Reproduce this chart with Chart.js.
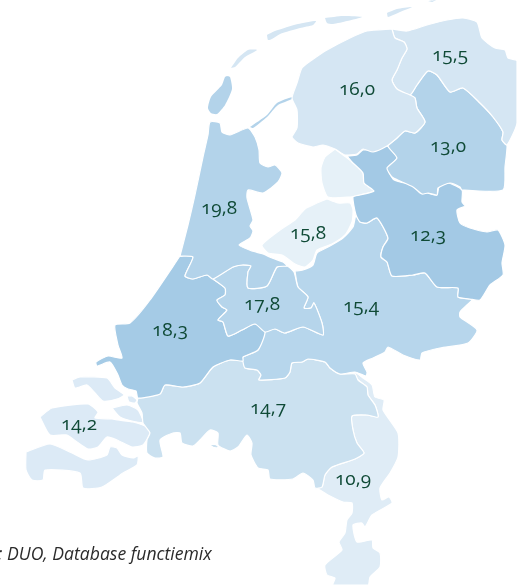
<!DOCTYPE html>
<html>
<head>
<meta charset="utf-8">
<title>Kaart</title>
<script src="https://cdn.jsdelivr.net/npm/chart.js@4"></script>
<style>
    html, body { margin: 0; padding: 0; background: #ffffff; }
    canvas { display: block; font-feature-settings: "onum"; }
</style>
</head>
<body>
<canvas id="mapChart" width="517" height="585"></canvas>
<script>
// outlines are map coordinates
const friesland = [[392,29],[367,31],[350,38],[327,50],[312,60],[302,68],[297,83],[292,98],[297,110],[297,128],[292,137],[298,143],[313,147],[323,145],[335,149],[345,155],[357,154],[363,149],[373,152],[387,146],[397,138],[405,131],[415,133],[425,122],[417,108],[415,98],[410,95],[397,89],[392,80],[397,70],[402,58],[407,49],[404,42],[395,38]];
const vlieland = [[231,68],[238,58],[248,50],[257,50],[245,57],[235,67]];
const terschelling = [[267,35],[268,40],[272,39],[280,34],[300,28],[313,25],[316,21],[298,24],[275,31]];
const ameland = [[325,18],[327,23],[333,24],[347,21],[362,17],[343,16]];
const schiermonnikoog = [[387,13],[388,17],[400,12],[412,7],[397,9]];
const rottum = [[428,1],[436,0],[432,2]];
const afsluitdijk = [[250,127],[267,115],[277,103],[292,97],[292,99],[278,105],[267,117],[253,128]];
const groningen = [[392,29],[407,31],[427,25],[447,20],[463,18],[477,22],[482,38],[495,48],[505,50],[508,58],[517,61],[517,123],[507,145],[502,140],[503,132],[493,117],[480,103],[463,88],[450,92],[437,75],[428,71],[417,85],[410,95],[397,89],[392,80],[397,70],[402,58],[407,49],[404,42],[395,38]];
const drenthe = [[410,95],[417,85],[428,71],[437,75],[450,92],[463,88],[480,103],[493,117],[503,132],[502,140],[507,145],[505,167],[503,190],[462,190],[460,187],[450,183],[438,188],[437,195],[428,193],[422,194],[413,187],[400,181],[392,177],[387,168],[397,158],[388,146],[397,138],[405,131],[415,133],[425,122],[417,108],[415,98]];
const overijssel = [[347,156],[357,155],[363,150],[377,150],[387,146],[397,158],[388,168],[393,179],[400,182],[413,185],[420,193],[427,193],[437,195],[439,187],[448,183],[462,190],[462,202],[465,206],[457,210],[460,223],[470,228],[487,232],[498,230],[505,245],[502,263],[503,275],[490,285],[480,300],[470,299],[458,297],[458,288],[437,287],[425,273],[413,275],[392,276],[387,262],[381,257],[383,247],[388,238],[377,218],[367,223],[360,222],[356,215],[353,197],[360,195],[374,191],[364,183],[363,173],[352,162]];
const noordoostpolder = [[335,149],[343,155],[352,162],[363,173],[364,183],[374,191],[360,195],[350,197],[328,197],[322,183],[321,168],[325,157]];
const zuidflevoland = [[327,199],[338,203],[350,203],[353,210],[352,222],[345,235],[332,244],[317,250],[313,260],[305,267],[295,264],[282,255],[268,253],[262,245],[280,230],[295,220],[305,209],[317,203]];
const noordHolland = [[180,256],[193,257],[185,276],[193,279],[207,275],[213,279],[233,267],[242,265],[251,266],[248,272],[248,288],[267,286],[277,267],[287,266],[283,262],[272,258],[263,254],[252,251],[239,245],[250,238],[253,231],[250,226],[253,220],[247,198],[248,190],[263,193],[278,182],[282,173],[275,165],[268,167],[260,163],[259,150],[255,137],[248,128],[230,135],[222,132],[220,123],[210,122],[208,135],[203,157],[195,195],[188,225]];
const texel = [[227,76],[230,77],[232,89],[225,105],[217,114],[211,113],[208,108],[211,97],[222,85],[225,77]];
const utrecht = [[213,279],[225,288],[225,295],[217,300],[222,307],[227,310],[218,320],[223,322],[228,336],[242,330],[255,324],[265,332],[275,329],[285,333],[303,327],[323,335],[322,323],[314,303],[311,308],[304,308],[308,297],[298,287],[294,272],[287,266],[277,267],[267,286],[248,288],[248,272],[251,266],[242,265],[233,267]];
const zuidHolland = [[180,256],[193,257],[185,276],[193,279],[207,275],[213,279],[225,288],[225,295],[217,300],[222,307],[227,310],[218,320],[223,322],[228,336],[242,330],[255,324],[265,332],[258,350],[243,357],[243,361],[230,360],[213,367],[200,383],[183,387],[165,385],[160,394],[138,398],[136,391],[128,389],[122,385],[118,375],[110,362],[97,366],[96,362],[108,356],[122,358],[118,345],[115,325],[130,323],[150,300]];
const gelderland = [[295,271],[303,270],[313,265],[317,253],[330,246],[343,238],[353,227],[356,215],[360,222],[367,223],[377,218],[388,238],[383,247],[381,257],[387,262],[392,276],[413,275],[425,273],[437,287],[458,288],[458,297],[470,299],[472,300],[460,312],[460,317],[477,330],[468,343],[440,348],[422,353],[420,360],[403,355],[388,347],[385,352],[373,358],[363,363],[367,372],[366,376],[355,372],[340,374],[330,368],[325,362],[308,359],[302,362],[292,363],[290,372],[285,378],[259,380],[261,375],[257,370],[245,368],[243,362],[243,357],[258,350],[265,332],[275,329],[285,333],[303,327],[323,335],[322,323],[314,303],[311,308],[304,308],[308,297],[298,287]];
const brabant = [[138,398],[160,394],[165,385],[183,387],[200,383],[213,367],[230,360],[243,361],[245,368],[257,370],[261,375],[259,380],[285,378],[290,372],[292,363],[302,362],[308,359],[325,362],[330,368],[340,374],[355,374],[358,380],[367,387],[368,395],[375,405],[378,417],[367,415],[352,416],[353,430],[357,443],[364,453],[355,459],[332,467],[325,475],[322,487],[315,488],[313,480],[303,473],[293,479],[270,479],[268,470],[258,468],[251,455],[252,443],[247,435],[238,447],[230,451],[218,445],[218,433],[210,430],[200,440],[193,446],[182,443],[180,433],[173,433],[160,440],[163,457],[155,458],[147,453],[147,440],[150,433],[143,423],[142,413],[137,403]];
const saeftinghe = [[211,445],[215,445],[218,447],[214,447]];
const limburg = [[355,374],[358,380],[367,387],[368,395],[375,405],[378,417],[367,415],[352,416],[353,430],[357,443],[364,453],[355,459],[332,467],[325,475],[322,487],[315,489],[320,490],[328,495],[343,502],[352,503],[352,513],[347,520],[345,533],[339,542],[342,550],[325,565],[327,575],[335,578],[333,585],[368,585],[370,577],[380,567],[380,553],[373,548],[372,540],[357,542],[353,525],[362,523],[365,527],[372,515],[392,503],[389,497],[382,500],[380,488],[390,473],[398,457],[398,433],[383,410],[384,400],[375,397],[372,385],[363,378],[355,372]];
const schouwen = [[72,380],[80,377],[107,378],[115,388],[124,395],[117,399],[103,401],[95,393],[87,385],[75,388]];
const tholen = [[112,408],[127,405],[138,410],[143,422],[132,421],[120,417]];
const philipsland = [[127,396],[132,396],[137,400],[135,403],[129,402]];
const beveland = [[40,417],[52,408],[88,404],[98,412],[95,418],[112,419],[118,420],[133,422],[147,427],[150,433],[143,445],[132,447],[117,440],[107,437],[98,447],[88,449],[77,442],[67,435],[50,435]];
const zeeuwsVlaanderen = [[26,452],[50,444],[72,453],[88,460],[107,455],[110,447],[117,448],[122,455],[133,458],[138,456],[137,465],[123,473],[102,487],[83,488],[80,473],[45,470],[43,480],[32,480],[26,470]];

const islandShapes = [vlieland, terschelling, ameland, schiermonnikoog, rottum, afsluitdijk, saeftinghe, texel];
const regionShapes = [friesland, vlieland, terschelling, ameland, schiermonnikoog, rottum, afsluitdijk, groningen, drenthe, overijssel, noordoostpolder, zuidflevoland, noordHolland, texel, utrecht, zuidHolland, gelderland, brabant, saeftinghe, limburg, schouwen, tholen, philipsland, beveland, zeeuwsVlaanderen];
const regionColors = ["#d5e6f3", "#d5e6f3", "#d5e6f3", "#d5e6f3", "#d5e6f3", "#d5e6f3", "#b3d3ea", "#d5e6f3", "#b3d3ea", "#a3c9e5", "#e6f1f8", "#e6f1f8", "#b3d3ea", "#b3d3ea", "#b6d5eb", "#a5cbe6", "#b7d6ec", "#cbe1f0", "#cbe1f0", "#dfecf6", "#dceaf6", "#dceaf6", "#dceaf6", "#dceaf6", "#dceaf6"];

const valueLabels = ["16,0", "15,5", "13,0", "12,3", "19,8", "15,8", "17,8", "15,4", "18,3", "14,7", "14,2", "10,9"];
const labelPoints = [[357,90],[450,56],[448,147],[428,236],[219,209],[308,234],[262,305],[361,307],[170,331],[268,409],[79,425],[353,480]];
const sourceText = ": DUO, Database functiemix";

const datasets = regionShapes.map((shape, i) => ({
    data: shape.concat([shape[0]]).map(p => ({ x: p[0], y: p[1] })),
    showLine: true,
    fill: "shape",
    backgroundColor: regionColors[i],
    borderColor: islandShapes.includes(shape) ? regionColors[i] : "#ffffff",
    borderWidth: islandShapes.includes(shape) ? 0 : 1.2,
    pointRadius: 0,
    pointHoverRadius: 0,
    tension: 0.2
}));

datasets.push({
    data: labelPoints.map(p => ({ x: p[0], y: p[1] })),
    showLine: false,
    pointRadius: 0,
    pointHoverRadius: 0
});

const labelPlugin = {
    id: "labelPlugin",
    afterDatasetsDraw(chart) {
        const ctx = chart.ctx;
        const xScale = chart.scales.x;
        const yScale = chart.scales.y;
        ctx.save();
        ctx.font = "19px 'Open Sans'";
        ctx.fillStyle = "#0f4a36";
        ctx.textAlign = "center";
        ctx.textBaseline = "middle";
        labelPoints.forEach((p, i) => {
            ctx.fillText(valueLabels[i], xScale.getPixelForValue(p[0]), yScale.getPixelForValue(p[1]));
        });
        ctx.font = "italic 17.6px 'Open Sans'";
        ctx.fillStyle = "#2b2b2b";
        ctx.textAlign = "left";
        ctx.fillText(sourceText, -2, yScale.getPixelForValue(555));
        ctx.restore();
    }
};

new Chart(document.getElementById("mapChart"), {
    type: "scatter",
    data: { datasets },
    options: {
        responsive: false,
        animation: false,
        layout: { padding: 0 },
        plugins: {
            legend: { display: false },
            tooltip: { enabled: false }
        },
        scales: {
            x: { type: "linear", display: false, min: 0, max: 517 },
            y: { type: "linear", display: false, min: 0, max: 585, reverse: true }
        }
    },
    plugins: [labelPlugin]
});
</script>
</body>
</html>
